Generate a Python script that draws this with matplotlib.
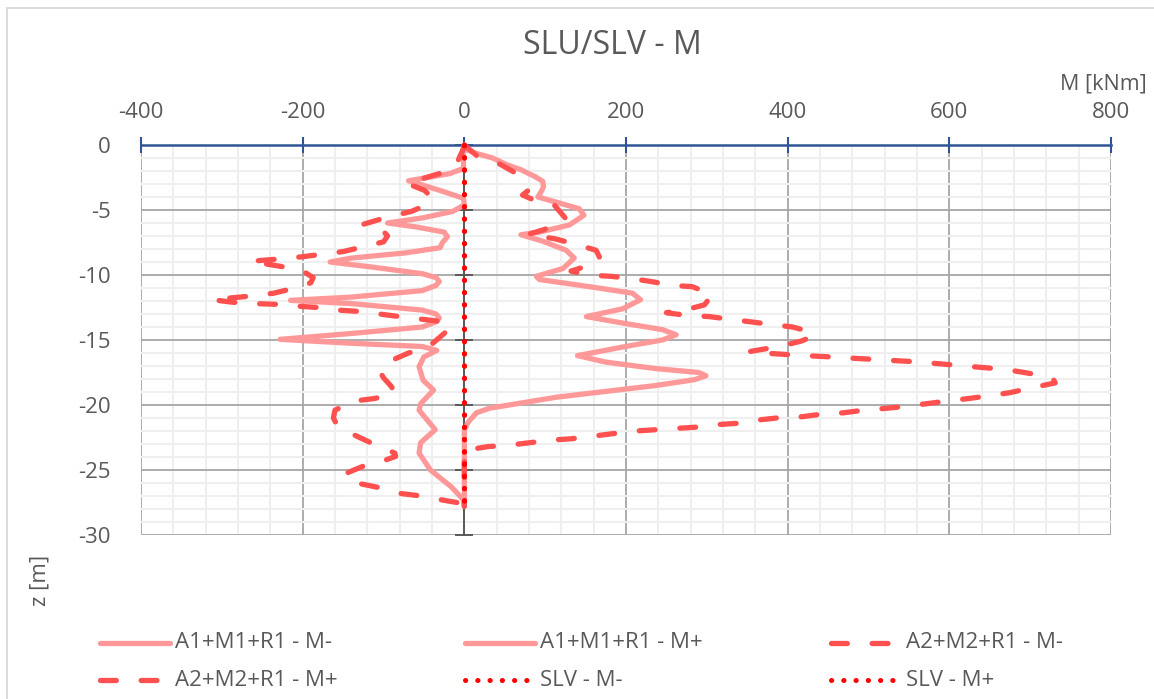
import matplotlib.pyplot as plt
from matplotlib.lines import Line2D
from matplotlib.patches import Rectangle
from matplotlib.ticker import MultipleLocator

plt.rcParams['font.family'] = ['Open Sans', 'DejaVu Sans']
plt.rcParams['axes.unicode_minus'] = False

# Inviluppo momenti lungo il palo: coppie (M [kNm], z [m])
a1_neg_m = [0, -1, -1, -18, -69, -30, -1, 0, -14, -51, -95, -60, -25, -21, -27, -30, -73, -140, -166,
            -113, -52, -35, -31, -35, -52, -140, -215, -140, -52, -35, -31, -35, -52, -140, -228, -140,
            -52, -34, -50, -56, -51, -38, -54, -56, -36, -54, -56, -42, -16, -1, 0]
a1_neg_z = [0, -0.4, -1.8, -2.2, -2.75, -3.5, -4.1, -4.6, -5.1, -5.6, -6.0, -6.3, -6.7, -7.05, -7.5, -7.9,
            -8.3, -8.7, -9.0, -9.4, -9.9, -10.2, -10.5, -10.8, -11.2, -11.7, -11.95, -12.2, -12.7, -13.0,
            -13.3, -13.6, -14.0, -14.5, -14.95, -15.25, -15.5, -15.8, -16.3, -17.05, -18.1, -18.85, -19.9,
            -20.4, -21.9, -22.9, -23.7, -25.0, -26.3, -27.3, -27.8]

a1_pos_m = [0, 15, 35, 52, 70, 88, 97, 98, 95, 91, 114, 142, 148, 130, 93, 70, 97, 126, 136, 122, 89, 93,
            155, 208, 218, 196, 151, 196, 245, 262, 245, 208, 140, 175, 237, 290, 299, 285, 237, 114, 31,
            15, 5, 0, 0]
a1_pos_z = [-0.3, -0.65, -1.0, -1.5, -1.9, -2.45, -2.8, -3.2, -3.6, -4.0, -4.4, -4.9, -5.4, -6.15, -6.7,
            -6.9, -7.4, -8.1, -8.7, -9.5, -10.1, -10.35, -10.9, -11.4, -11.9, -12.6, -13.2, -13.7, -14.2,
            -14.6, -15.0, -15.4, -16.2, -16.7, -17.2, -17.5, -17.75, -18.05, -18.5, -19.4, -20.25, -20.6,
            -21.3, -21.9, -27.8]

a2_neg_m = [0, -2, -10, -23, -71, -49, -41, -43, -65, -98, -125, -102, -95, -100, -123, -150, -201, -226,
            -265, -226, -201, -187, -190, -209, -236, -261, -312, -286, -259, -234, -205, -181, -156, -131,
            -105, -80, -53, -26, -16, -25, -40, -47, -69, -95, -104, -100, -90, -86, -111, -137, -160,
            -162, -156, -133, -109, -86, -85, -96, -121, -148, -145, -133, -102, -80, -53, -28, 0]
a2_neg_z = [0, -0.4, -1.5, -2.05, -2.95, -3.5, -4.0, -4.5, -5.1, -5.6, -6.1, -6.5, -7.0, -7.45, -7.8,
            -8.2, -8.6, -8.75, -8.95, -9.35, -9.65, -10.2, -10.6, -11.0, -11.4, -11.6, -11.9, -12.1, -12.2,
            -12.25, -12.4, -12.5, -12.7, -12.8, -13.0, -13.2, -13.4, -13.6, -14.0, -14.5, -15.3, -15.6,
            -16.0, -16.7, -17.5, -17.9, -18.6, -19.1, -19.5, -19.7, -20.4, -21.0, -21.7, -22.4, -23.1,
            -23.7, -23.95, -24.2, -24.6, -25.3, -25.7, -26.0, -26.4, -26.8, -27.0, -27.3, -27.6]

a2_pos_m = [0, 15, 42, 62, 79, 72, 85, 111, 126, 99, 83, 78, 111, 136, 163, 167, 167, 132, 153, 181, 204,
            231, 258, 282, 307, 297, 272, 250, 274, 303, 328, 354, 379, 406, 430, 432, 416, 389, 352, 369,
            395, 420, 447, 474, 498, 525, 549, 576, 601, 628, 654, 679, 706, 728, 731, 700, 675, 648, 624,
            597, 572, 546, 521, 494, 469, 443, 418, 391, 364, 340, 315, 288, 262, 237, 212, 184, 159, 132,
            107, 81, 54, 29, 5, 0, 0]
a2_pos_z = [0, -0.8, -1.4, -2.1, -3.5, -3.85, -4.2, -4.6, -5.7, -6.5, -6.8, -6.9, -7.2, -7.6, -8.1, -8.6,
            -9.0, -9.7, -10.0, -10.1, -10.25, -10.5, -10.8, -10.9, -11.5, -12.3, -12.7, -12.9, -13.1,
            -13.2, -13.4, -13.6, -13.8, -14.0, -14.4, -14.7, -15.1, -15.5, -15.9, -16.0, -16.1, -16.2,
            -16.28, -16.38, -16.46, -16.56, -16.64, -16.77, -16.9, -17.05, -17.18, -17.36, -17.64, -17.95,
            -18.3, -18.7, -19.05, -19.3, -19.5, -19.7, -19.9, -20.1, -20.26, -20.4, -20.6, -20.7, -20.9,
            -20.97, -21.15, -21.4, -21.5, -21.7, -21.8, -21.9, -22.0, -22.2, -22.4, -22.6, -22.7, -22.9,
            -23.1, -23.2, -23.45, -23.5, -27.8]

slv_neg_m = [0, 0]
slv_neg_z = [0, -27.8]
slv_pos_m = [0, 0]
slv_pos_z = [0, -27.8]

labels = ["A1+M1+R1 - M-", "A1+M1+R1 - M+", "A2+M2+R1 - M-",
          "A2+M2+R1 - M+", "SLV - M-", "SLV - M+"]

solid = dict(color='#FF9999', lw=3.8, solid_capstyle='round', solid_joinstyle='round')
dashed = dict(color='#FF5050', lw=3.8, dashes=(3.0, 4.7), dash_capstyle='round', dash_joinstyle='round')
dotted = dict(color='#FF0000', lw=3.6, dashes=(0.05, 2.4), dash_capstyle='round')

series = [
    (a1_neg_m, a1_neg_z, solid),
    (a1_pos_m, a1_pos_z, solid),
    (a2_neg_m, a2_neg_z, dashed),
    (a2_pos_m, a2_pos_z, dashed),
    (slv_neg_m, slv_neg_z, dotted),
    (slv_pos_m, slv_pos_z, dotted),
]

W, H = 1154, 699
fig = plt.figure(figsize=(W / 100, H / 100), dpi=100)
ax = fig.add_axes([141 / W, 1 - 535 / H, 970 / W, 390 / H])

for (m, z, st), lab in zip(series, labels):
    ax.plot(m, z, label=lab, clip_on=False, zorder=3, **st)

ax.set_xlim(-400, 800)
ax.set_ylim(-30, 0)
ax.xaxis.set_major_locator(MultipleLocator(200))
ax.xaxis.set_minor_locator(MultipleLocator(40))
ax.yaxis.set_major_locator(MultipleLocator(5))
ax.yaxis.set_minor_locator(MultipleLocator(1))
ax.grid(which='minor', color='#EFEFEF', lw=1.5)
ax.grid(which='major', color='#A6A6A6', lw=1.3)
ax.set_axisbelow(True)

gray = '#595959'
blue = '#2F5597'
ax.spines['bottom'].set_visible(False)
ax.spines['right'].set_visible(False)
ax.spines['top'].set_color(blue)
ax.spines['top'].set_linewidth(1.8)
ax.spines['left'].set_position(('data', 0))
ax.spines['left'].set_color(gray)
ax.spines['left'].set_linewidth(1.4)

ax.xaxis.tick_top()
ax.tick_params(which='minor', length=0)
ax.tick_params(axis='x', which='major', direction='inout', length=11, width=1.5, color=blue,
               labelsize=16, labelcolor=gray, pad=10)
ax.tick_params(axis='y', which='major', direction='inout', length=13, width=1.4, color=gray,
               labelleft=False)

# etichette z sul bordo sinistro, l'asse vero passa per M = 0
sec = ax.secondary_yaxis(0.0)
sec.yaxis.set_major_locator(MultipleLocator(5))
sec.spines['left'].set_visible(False)
sec.tick_params(length=0, pad=22, labelsize=16, labelcolor=gray)
sec.tick_params(which='minor', length=0)

fig.text(612 / W, 1 - 45 / H, "SLU/SLV - M", ha='center', va='center', fontsize=23, color=gray)
fig.text(1147 / W, 1 - 84 / H, "M [kNm]", ha='right', va='center', fontsize=15.5, color=gray)
fig.text(40 / W, 1 - 580 / H, "z [m]", ha='center', va='center', rotation=90, fontsize=16, color=gray)

# legenda su 3 colonne
col_x = [100, 465, 831]
row_y = [643, 680]
for i, ((m, z, st), lab) in enumerate(zip(series, labels)):
    x0 = col_x[i % 3]
    y0 = 1 - row_y[i // 3] / H
    fig.add_artist(Line2D([x0 / W, (x0 + 70) / W], [y0, y0], transform=fig.transFigure, **st))
    fig.text((x0 + 75) / W, y0, lab, ha='left', va='center', fontsize=16, color=gray)

fig.add_artist(Rectangle((7 / W, -0.1), 1.2, 1.1 - 8 / H, transform=fig.transFigure,
                         fill=False, ec='#D9D9D9', lw=1.3))

fig.savefig("out.png", dpi=100, facecolor='white')
